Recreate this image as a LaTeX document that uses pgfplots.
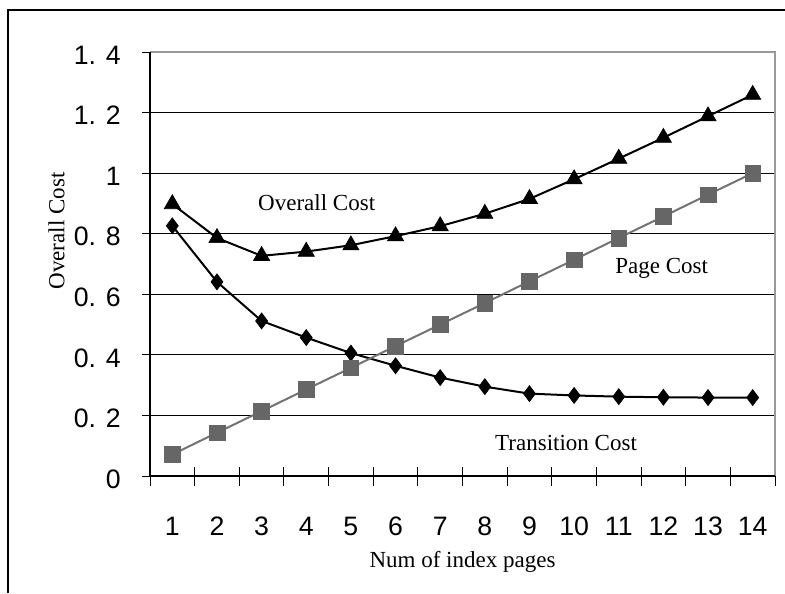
\documentclass[border=0pt]{standalone}
\usepackage{fontspec}
\setmainfont{Liberation Serif}
\newfontfamily\arialfont{Liberation Sans}
\usepackage{pgfplots}
\pgfplotsset{compat=1.18}
\begin{document}
\begin{tikzpicture}
\useasboundingbox (0,0) rectangle (588.75pt,-444.75pt);
\draw[line width=1.2pt] (6pt,-444.75pt) -- (6pt,-7.5pt) -- (588.75pt,-7.5pt);
\begin{axis}[
  at={(112.5pt,-357pt)}, anchor=south west,
  scale only axis, width=468.75pt, height=318pt,
  xmin=0.5, xmax=14.5, ymin=0, ymax=1.4,
  clip=false,
  /pgf/number format/assume math mode=true,
  axis line style={draw=none},
  xtick pos=left, ytick pos=left,
  xtick={1,...,14},
  major x tick style={draw=none},
  minor xtick={0.5,1.5,...,14.5},
  minor tick length=14.25pt,
  major tick length=12pt,
  tick align=center,
  tick style={black, line width=0.75pt},
  ytick={0,0.2,0.4,0.6,0.8,1,1.2,1.4},
  yticklabels={0,0. 2,0. 4,0. 6,0. 8,1,1. 2,1. 4},
  ymajorgrids,
  major grid style={black, line width=0.75pt},
  xticklabel style={font=\arialfont\fontsize{20}{22}\selectfont, anchor=base, inner sep=0pt, yshift=-38.5pt},
  yticklabel style={font=\arialfont\fontsize{20}{22}\selectfont, anchor=east, inner sep=0pt, xshift=-15.75pt, yshift=-2.3pt},
  xlabel={Num of index pages},
  xlabel style={at={(axis description cs:0.5,-0.177)}, anchor=north, inner sep=0pt, font=\fontsize{17.25}{20}\selectfont},
  ylabel={Overall Cost},
  ylabel style={at={(axis description cs:-0.1496,0.578)}, anchor=center, inner sep=0pt, font=\fontsize{17.25}{20}\selectfont},
]
\addplot[black, line width=1.5pt, mark=diamond*, mark size=6pt, mark options={solid, line width=0.5pt}] coordinates {
(1,0.826)(2,0.641)(3,0.512)(4,0.457)(5,0.406)(6,0.364)(7,0.325)(8,0.295)(9,0.272)(10,0.266)(11,0.262)(12,0.260)(13,0.259)(14,0.259)};
\addplot[black!55, line width=1.5pt, mark=square*, mark size=5.9pt, mark options={solid, line width=0.4pt, draw=black!60, fill=black!60}] coordinates {
(1,0.071)(2,0.143)(3,0.214)(4,0.286)(5,0.357)(6,0.429)(7,0.500)(8,0.571)(9,0.643)(10,0.714)(11,0.786)(12,0.857)(13,0.929)(14,1.000)};
\addplot[black, line width=1.5pt, mark=triangle*, mark size=7pt, mark options={solid, line width=0.5pt}] coordinates {
(1,0.898)(2,0.786)(3,0.727)(4,0.741)(5,0.762)(6,0.792)(7,0.825)(8,0.866)(9,0.915)(10,0.980)(11,1.048)(12,1.117)(13,1.188)(14,1.259)};
\node[font=\fontsize{17.25}{20}\selectfont] at (axis cs:4.234,0.902) {Overall Cost};
\node[font=\fontsize{17.25}{20}\selectfont] at (axis cs:11.96,0.686) {Page Cost};
\node[font=\fontsize{17.25}{20}\selectfont] at (axis cs:9.82,0.108) {Transition Cost};
\draw[black!40, line width=1.6pt] (rel axis cs:0,1) -- (rel axis cs:1,1) -- (rel axis cs:1,0);
\draw[black, line width=1.5pt] (rel axis cs:0,0) -- (rel axis cs:1,0);
\draw[black, line width=1.1pt] (rel axis cs:0,0) -- (rel axis cs:0,1);
\end{axis}
\end{tikzpicture}
\end{document}
